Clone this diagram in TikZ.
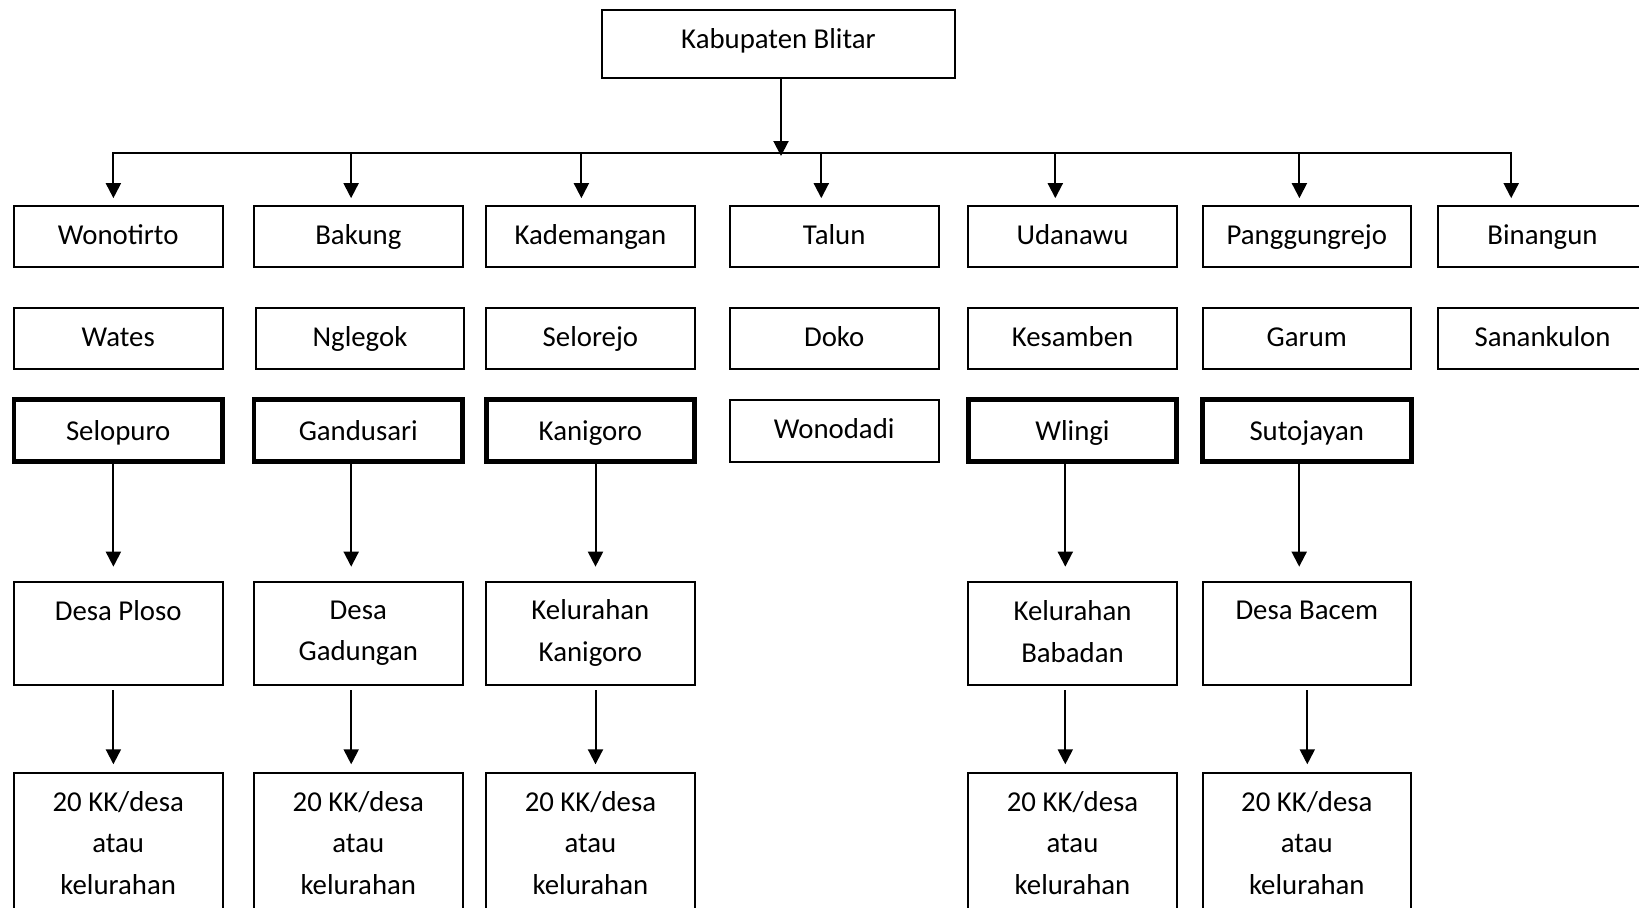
\documentclass[tikz,border=0pt]{standalone}
\usepackage{fontspec}
\setmainfont{Carlito}
\usetikzlibrary{arrows.meta}

\begin{document}
\begin{tikzpicture}[x=0.5pt, y=-0.5pt, line width=1pt,
    font=\fontsize{14.4}{20.9}\selectfont,
    box/.style = {draw, rectangle, minimum width=104.3pt, minimum height=30.75pt, inner sep=0pt, text height=10.3pt, text depth=2.5pt},
    pilih/.style = {box, line width=2.4pt, text depth=0pt},
    desa/.style = {draw, rectangle, minimum width=104.3pt, minimum height=51.35pt, inner sep=0pt, align=center, execute at end node={\rule[-2.1pt]{0pt}{2.1pt}}},
    kk/.style = {desa, minimum height=0pt, anchor=north, inner ysep=9pt},
    arr/.style = {-{Triangle[length=7.5pt, width=7.5pt]}}]
        \useasboundingbox (0,0) rectangle (1639,907);
        \clip (0,0) rectangle (1639,907);

        \node[box, minimum width=176.5pt, minimum height=34pt, text depth=6pt] (kab) at (778.5,44.3) {Kabupaten Blitar};

        % kecamatan
        \node[box] (wonotirto) at (118.2,236.5) {Wonotirto};
        \node[box] (bakung) at (358.3,236.5) {Bakung};
        \node[box] (kademangan) at (590.4,236.5) {Kademangan};
        \node[box] (talun) at (834.2,236.5) {Talun};
        \node[box] (udanawu) at (1072.5,236.5) {Udanawu};
        \node[box] (panggungrejo) at (1306.8,236.5) {Panggungrejo};
        \node[box] (binangun) at (1542.5,236.5) {Binangun};

        \node[box] (wates) at (118.2,338.7) {Wates};
        \node[box] (nglegok) at (360,338.7) {Nglegok};
        \node[box] (selorejo) at (590.4,338.7) {Selorejo};
        \node[box] (doko) at (834.2,338.7) {Doko};
        \node[box] (kesamben) at (1072.5,338.7) {Kesamben};
        \node[box] (garum) at (1306.8,338.7) {Garum};
        \node[box] (sanankulon) at (1542.5,338.7) {Sanankulon};

        \node[pilih] (selopuro) at (118.2,430.5) {Selopuro};
        \node[pilih] (gandusari) at (358.3,430.5) {Gandusari};
        \node[pilih] (kanigoro) at (590.4,430.5) {Kanigoro};
        \node[box] (wonodadi) at (834.2,431) {Wonodadi};
        \node[pilih] (wlingi) at (1072.5,430.5) {Wlingi};
        \node[pilih] (sutojayan) at (1306.8,430.5) {Sutojayan};

        % desa / kelurahan
        \node[desa] (ploso) at (118.2,633.3) {Desa Ploso\\};
        \node[desa] (gadungan) at (358.3,633.3) {Desa\\Gadungan};
        \node[desa] (kelkanigoro) at (590.4,633.3) {Kelurahan\\Kanigoro};
        \node[desa] (babadan) at (1072.5,633.3) {Kelurahan\\Babadan};
        \node[desa] (bacem) at (1306.8,633.3) {Desa Bacem\\};

        \node[kk] (kk1) at (118.2,772) {20 KK/desa\\atau\\kelurahan};
        \node[kk] (kk2) at (358.3,772) {20 KK/desa\\atau\\kelurahan};
        \node[kk] (kk3) at (590.4,772) {20 KK/desa\\atau\\kelurahan};
        \node[kk] (kk5) at (1072.5,772) {20 KK/desa\\atau\\kelurahan};
        \node[kk] (kk6) at (1306.8,772) {20 KK/desa\\atau\\kelurahan};

        \coordinate (hub) at (781,156);
        \coordinate (b1) at (113.4,153.3);
        \coordinate (b2) at (351.1,153.3);
        \coordinate (b3) at (581.4,153.3);
        \coordinate (b4) at (821.3,153.3);
        \coordinate (b5) at (1055.3,153.3);
        \coordinate (b6) at (1299.4,153.3);
        \coordinate (b7) at (1511.2,153.3);

        \draw[arr] (kab.south -| hub) -- (hub);
        \draw[line cap=rect] (b1) -- (b7);
        \foreach \b/\n in {b1/wonotirto, b2/bakung, b3/kademangan, b4/talun, b5/udanawu, b6/panggungrejo, b7/binangun}
            \draw[arr, shorten >=3.3pt] (\b) -- (\b |- \n.north);

        \foreach \s/\k/\d/\x in {selopuro/ploso/kk1/-2.4pt, gandusari/gadungan/kk2/-3.55pt, kanigoro/kelkanigoro/kk3/2.55pt, wlingi/babadan/kk5/-3.6pt}{
            \draw[arr, shorten >=7.15pt] ([xshift=\x]\s.south) -- ([xshift=\x]\k.north);
            \draw[arr, shorten <=2.2pt, shorten >=3.85pt] ([xshift=\x]\k.south) -- ([xshift=\x]\d.north);
        }
        \draw[arr, shorten >=7.15pt] ([xshift=-3.8pt]sutojayan.south) -- ([xshift=-3.8pt]bacem.north);
        \draw[arr, shorten <=2.2pt, shorten >=3.85pt] ([xshift=0.25pt]bacem.south) -- ([xshift=0.25pt]kk6.north);
\end{tikzpicture}
\end{document}
